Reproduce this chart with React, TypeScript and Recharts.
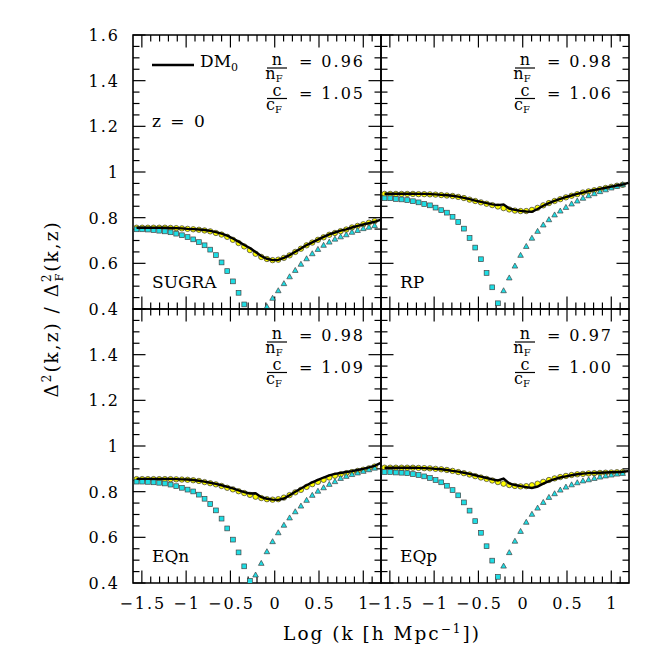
import React from 'react';
import { ComposedChart, Line, Scatter, XAxis, YAxis, ReferenceArea, ReferenceLine } from 'recharts';

// log k sampling of the points (last entry only used by the DM0 line)
const K = [
  -1.56, -1.496, -1.432, -1.368, -1.304, -1.24, -1.176, -1.112, -1.048, -0.984, -0.92,
  -0.856, -0.792, -0.728, -0.664, -0.6, -0.536, -0.472, -0.408, -0.344, -0.28, -0.216,
  -0.152, -0.088, -0.024, 0.04, 0.104, 0.168, 0.232, 0.296, 0.36, 0.424, 0.488, 0.552,
  0.616, 0.68, 0.744, 0.808, 0.872, 0.936, 1.0, 1.064, 1.128, 1.192,
];

const X_TICKS = [
  -1.5, -1.4, -1.3, -1.2, -1.1, -1, -0.9, -0.8, -0.7, -0.6, -0.5, -0.4, -0.3, -0.2, -0.1,
  0, 0.1, 0.2, 0.3, 0.4, 0.5, 0.6, 0.7, 0.8, 0.9, 1, 1.1,
];
const X_LABELS = [-1.5, -1, -0.5, 0, 0.5, 1];
const Y_TICKS = [
  0.4, 0.45, 0.5, 0.55, 0.6, 0.65, 0.7, 0.75, 0.8, 0.85, 0.9, 0.95, 1, 1.05, 1.1, 1.15,
  1.2, 1.25, 1.3, 1.35, 1.4, 1.45, 1.5, 1.55, 1.6,
];
const Y_MAJOR = [0.4, 0.6, 0.8, 1, 1.2, 1.4, 1.6];
const Y_LABELS_TOP = [0.4, 0.6, 0.8, 1, 1.2, 1.4, 1.6];
const Y_LABELS_BOTTOM = [0.4, 0.6, 0.8, 1, 1.2, 1.4];

// SUGRA
const SUGRA_LINE = [
  0.756, 0.756, 0.756, 0.756, 0.756, 0.756, 0.755, 0.754, 0.753, 0.751, 0.75, 0.748, 0.746,
  0.742, 0.737, 0.73, 0.721, 0.709, 0.695, 0.68, 0.667, 0.65, 0.632, 0.62, 0.614, 0.615,
  0.624, 0.636, 0.651, 0.665, 0.68, 0.692, 0.704, 0.716, 0.727, 0.735, 0.743, 0.749, 0.757,
  0.764, 0.77, 0.776, 0.782, 0.79,
];
const SUGRA_CIRC = [
  0.756, 0.756, 0.756, 0.756, 0.756, 0.756, 0.755, 0.754, 0.753, 0.751, 0.749, 0.747, 0.744,
  0.74, 0.733, 0.726, 0.716, 0.703, 0.689, 0.674, 0.658, 0.642, 0.628, 0.619, 0.614, 0.616,
  0.624, 0.635, 0.65, 0.664, 0.679, 0.691, 0.703, 0.714, 0.725, 0.733, 0.741, 0.748, 0.757,
  0.764, 0.771, 0.778, 0.785,
];
const SUGRA_SQ = [
  0.749, 0.749, 0.748, 0.746, 0.743, 0.74, 0.736, 0.73, 0.723, 0.715, 0.705, 0.693, 0.679,
  0.66, 0.636, 0.604, 0.566, 0.521, 0.471, 0.42,
];
const SUGRA_TRI = [
  0.41, 0.447, 0.48, 0.511, 0.541, 0.569, 0.596, 0.62, 0.642, 0.661, 0.679, 0.693, 0.706,
  0.716, 0.725, 0.736, 0.744, 0.752, 0.758, 0.765,
];

// RP
const RP_LINE = [
  0.905, 0.905, 0.905, 0.905, 0.905, 0.905, 0.904, 0.904, 0.903, 0.902, 0.9, 0.898, 0.896,
  0.892, 0.887, 0.881, 0.875, 0.869, 0.864, 0.858, 0.855, 0.858, 0.84, 0.834, 0.83, 0.827,
  0.826, 0.838, 0.852, 0.864, 0.874, 0.882, 0.89, 0.897, 0.904, 0.91, 0.916, 0.921, 0.926,
  0.931, 0.936, 0.941, 0.945, 0.952,
];
const RP_CIRC = [
  0.904, 0.904, 0.904, 0.904, 0.904, 0.904, 0.903, 0.903, 0.902, 0.901, 0.899, 0.897, 0.895,
  0.891, 0.886, 0.879, 0.873, 0.867, 0.861, 0.855, 0.849, 0.842, 0.836, 0.831, 0.829, 0.829,
  0.834, 0.843, 0.854, 0.864, 0.873, 0.881, 0.889, 0.896, 0.903, 0.91, 0.915, 0.92, 0.925,
  0.93, 0.935, 0.94, 0.944,
];
const RP_SQ = [
  0.885, 0.885, 0.882, 0.88, 0.877, 0.872, 0.867, 0.86, 0.854, 0.844, 0.833, 0.822, 0.804,
  0.781, 0.752, 0.711, 0.669, 0.618, 0.558, 0.495, 0.425,
];
const RP_TRI = [
  0.48, 0.536, 0.588, 0.635, 0.674, 0.71, 0.74, 0.768, 0.791, 0.812, 0.829, 0.845, 0.86,
  0.873, 0.885, 0.896, 0.905, 0.914, 0.922, 0.93, 0.937, 0.944,
];

// EQn
const EQN_LINE = [
  0.856, 0.856, 0.856, 0.856, 0.856, 0.856, 0.856, 0.855, 0.854, 0.853, 0.851, 0.848, 0.844,
  0.839, 0.834, 0.828, 0.821, 0.814, 0.806, 0.798, 0.792, 0.793, 0.776, 0.769, 0.765, 0.764,
  0.77, 0.784, 0.8, 0.814, 0.828, 0.841, 0.852, 0.862, 0.871, 0.878, 0.882, 0.886, 0.89,
  0.895, 0.9, 0.906, 0.913, 0.925,
];
const EQN_CIRC = [
  0.855, 0.855, 0.855, 0.855, 0.855, 0.855, 0.855, 0.854, 0.853, 0.852, 0.85, 0.847, 0.842,
  0.837, 0.832, 0.825, 0.817, 0.81, 0.802, 0.794, 0.786, 0.778, 0.772, 0.767, 0.765, 0.767,
  0.774, 0.785, 0.797, 0.808, 0.821, 0.833, 0.843, 0.852, 0.862, 0.87, 0.876, 0.881, 0.886,
  0.891, 0.896, 0.902, 0.91,
];
const EQN_SQ = [
  0.844, 0.844, 0.843, 0.841, 0.839, 0.836, 0.831, 0.824, 0.817, 0.809, 0.801, 0.787, 0.769,
  0.746, 0.718, 0.682, 0.639, 0.59, 0.534, 0.473, 0.409,
];
const EQN_TRI = [
  0.435, 0.486, 0.537, 0.581, 0.62, 0.653, 0.685, 0.712, 0.737, 0.762, 0.784, 0.802, 0.817,
  0.832, 0.844, 0.858, 0.867, 0.875, 0.882, 0.889, 0.896, 0.903,
];

// EQp
const EQP_LINE = [
  0.905, 0.905, 0.905, 0.905, 0.905, 0.905, 0.904, 0.903, 0.902, 0.9, 0.898, 0.895, 0.891,
  0.888, 0.883, 0.878, 0.872, 0.866, 0.86, 0.854, 0.849, 0.857, 0.836, 0.829, 0.824, 0.82,
  0.816, 0.822, 0.835, 0.846, 0.855, 0.862, 0.867, 0.872, 0.876, 0.879, 0.881, 0.882, 0.883,
  0.884, 0.885, 0.886, 0.887, 0.89,
];
const EQP_CIRC = [
  0.905, 0.905, 0.905, 0.905, 0.905, 0.905, 0.904, 0.903, 0.902, 0.9, 0.898, 0.895, 0.891,
  0.886, 0.881, 0.875, 0.868, 0.862, 0.856, 0.849, 0.842, 0.835, 0.829, 0.825, 0.823, 0.824,
  0.828, 0.835, 0.843, 0.851, 0.858, 0.864, 0.869, 0.873, 0.876, 0.878, 0.88, 0.881, 0.882,
  0.883, 0.884, 0.885, 0.886,
];
const EQP_SQ = [
  0.886, 0.886, 0.884, 0.883, 0.881, 0.877, 0.873, 0.867, 0.86, 0.851, 0.841, 0.826, 0.807,
  0.784, 0.753, 0.717, 0.671, 0.62, 0.561, 0.498, 0.427,
];
const EQP_TRI = [
  0.474, 0.533, 0.583, 0.626, 0.666, 0.701, 0.728, 0.753, 0.775, 0.791, 0.807, 0.82, 0.83,
  0.839, 0.847, 0.852, 0.858, 0.864, 0.869, 0.873, 0.877, 0.88,
];

const FONT = 'DejaVu Serif';
const CYAN = '#1edde4';
const MAJOR = 12.5;
const MINOR = 6.5;
const PLOT_W = 248;
const PLOT_H = 274;
const M = 30;
const X_DOMAIN = [-1.6, 1.2];
const Y_DOMAIN = [0.4, 1.6];
// tick length in pixels -> data units
const PX_X = (X_DOMAIN[1] - X_DOMAIN[0]) / PLOT_W;
const PX_Y = (Y_DOMAIN[1] - Y_DOMAIN[0]) / PLOT_H;

const has = (arr: number[], v: number) => arr.some((a) => Math.abs(a - v) < 1e-6);
const fmt = (v: number) => String(Math.round(v * 10) / 10).replace('-', '\u2212');

// axis tick labels only; the inward tick marks are reference segments
function makeLabel(side: 'bottom' | 'left', labels: number[]) {
  return (props: any) => {
    const { x, y, payload } = props;
    const v = payload.value;
    if (!has(labels, v)) return <g />;
    if (side === 'bottom') {
      return (
        <text x={x + 1} y={y + 26} textAnchor="middle" fontFamily={FONT} fontSize={16} letterSpacing={2} fill="#000">
          {fmt(v)}
        </text>
      );
    }
    return (
      <text x={x - 13} y={y + 6} textAnchor="end" fontFamily={FONT} fontSize={16} letterSpacing={2} fill="#000">
        {fmt(v)}
      </text>
    );
  };
}

const circleShape = (p: any) => (
  <circle cx={p.cx} cy={p.cy} r={2.7} fill="#ffff00" stroke="#333" strokeWidth={0.7} />
);
const squareShape = (p: any) => (
  <rect x={p.cx - 2.4} y={p.cy - 2.4} width={4.8} height={4.8} fill={CYAN} stroke="#444" strokeWidth={0.7} />
);
const triangleShape = (p: any) => (
  <polygon
    points={`${p.cx},${p.cy - 3} ${p.cx + 2.8},${p.cy + 2} ${p.cx - 2.8},${p.cy + 2}`}
    fill={CYAN}
    stroke="#444"
    strokeWidth={0.7}
  />
);

function tickMarks() {
  const out: React.ReactElement[] = [];
  const [x0, x1] = X_DOMAIN;
  const [y0, y1] = Y_DOMAIN;
  X_TICKS.forEach((v) => {
    const dy = (has(X_LABELS, v) ? MAJOR : MINOR) * PX_Y;
    out.push(<ReferenceLine key={`b${v}`} segment={[{ x: v, y: y0 }, { x: v, y: y0 + dy }]} stroke="#000" strokeWidth={1.2} />);
    out.push(<ReferenceLine key={`t${v}`} segment={[{ x: v, y: y1 }, { x: v, y: y1 - dy }]} stroke="#000" strokeWidth={1.2} />);
  });
  Y_TICKS.forEach((v) => {
    const dx = (has(Y_MAJOR, v) ? MAJOR : MINOR) * PX_X;
    out.push(<ReferenceLine key={`l${v}`} segment={[{ x: x0, y: v }, { x: x0 + dx, y: v }]} stroke="#000" strokeWidth={1.2} />);
    out.push(<ReferenceLine key={`r${v}`} segment={[{ x: x1, y: v }, { x: x1 - dx, y: v }]} stroke="#000" strokeWidth={1.2} />);
  });
  return out;
}

type PanelProps = {
  left: number;
  top: number;
  line: number[];
  circ: number[];
  sq: number[];
  tri: number[];
  xLabels: number[];
  yLabels: number[];
};

function Panel({ left, top, line, circ, sq, tri, xLabels, yLabels }: PanelProps) {
  const wy = yLabels.length ? 60 : 0;
  const hx = xLabels.length ? 50 : 0;
  const rows = K.map((k, i) => ({ k, line: line[i] }));
  const circData = circ.map((v, i) => ({ k: K[i], v }));
  const sqData = sq.map((v, i) => ({ k: K[i], v }));
  const off = circ.length - tri.length;
  const triData = tri.map((v, i) => ({ k: K[off + i], v }));
  return (
    <div style={{ position: 'absolute', left: left - M - wy, top: top - M }}>
      <ComposedChart
        width={PLOT_W + 2 * M + wy}
        height={PLOT_H + 2 * M + hx}
        data={rows}
        margin={{ top: M, right: M, bottom: M, left: M }}
      >
        <XAxis
          dataKey="k"
          type="number"
          domain={X_DOMAIN}
          allowDataOverflow
          ticks={X_TICKS}
          interval={0}
          height={hx}
          tickSize={0}
          tickMargin={0}
          tickLine={false}
          axisLine={false}
          tick={makeLabel('bottom', xLabels)}
        />
        <YAxis
          type="number"
          domain={Y_DOMAIN}
          allowDataOverflow
          ticks={Y_TICKS}
          interval={0}
          width={wy}
          tickSize={0}
          tickMargin={0}
          tickLine={false}
          axisLine={false}
          tick={makeLabel('left', yLabels)}
        />
        <ReferenceArea
          x1={X_DOMAIN[0]}
          x2={X_DOMAIN[1]}
          y1={Y_DOMAIN[0]}
          y2={Y_DOMAIN[1]}
          fill="none"
          fillOpacity={0}
          stroke="#000"
          strokeWidth={1.6}
          strokeOpacity={1}
          ifOverflow="visible"
        />
        {tickMarks()}
        <Scatter data={circData} dataKey="v" shape={circleShape} isAnimationActive={false} />
        <Line
          dataKey="line"
          type="linear"
          stroke="#000"
          strokeWidth={2.4}
          dot={false}
          isAnimationActive={false}
          zIndex={650}
        />
        <Scatter data={sqData} dataKey="v" shape={squareShape} isAnimationActive={false} />
        <Scatter data={triData} dataKey="v" shape={triangleShape} isAnimationActive={false} />
      </ComposedChart>
    </div>
  );
}

const PL = 133;
const PM = 381;
const PR = 629;
const PT = 35;
const PMY = 309;
const PB = 583;

function Fraction({ cx, y, top, bottom }: { cx: number; y: number; top: string; bottom: string }) {
  return (
    <g>
      <line x1={cx - 10} x2={cx + 10} y1={y} y2={y} stroke="#000" strokeWidth={1.2} />
      <text x={cx} y={y - 3} textAnchor="middle">{top}</text>
      <text x={cx - 3} y={y + 11} textAnchor="middle">
        {bottom}
        <tspan fontSize={10} dy={3}>F</tspan>
      </text>
    </g>
  );
}

function Params({ right, top, n, c }: { right: number; top: number; n: string; c: string }) {
  const nb = top + 33;
  const cb = top + 63.5;
  return (
    <g>
      <Fraction cx={right - 104} y={nb} top="n" bottom="n" />
      <Fraction cx={right - 104} y={cb} top="c" bottom="c" />
      <text x={right - 16} y={nb - 1} textAnchor="end" letterSpacing={2}>{`=  ${n}`}</text>
      <text x={right - 16} y={cb} textAnchor="end" letterSpacing={2}>{`=  ${c}`}</text>
    </g>
  );
}

export default function App() {
  return (
    <div style={{ position: 'absolute', left: 0, top: 0, width: 664, height: 664, background: '#fff' }}>
      <Panel left={PL} top={PT} line={SUGRA_LINE} circ={SUGRA_CIRC} sq={SUGRA_SQ} tri={SUGRA_TRI} xLabels={[]} yLabels={Y_LABELS_TOP} />
      <Panel left={PM} top={PT} line={RP_LINE} circ={RP_CIRC} sq={RP_SQ} tri={RP_TRI} xLabels={[]} yLabels={[]} />
      <Panel left={PL} top={PMY} line={EQN_LINE} circ={EQN_CIRC} sq={EQN_SQ} tri={EQN_TRI} xLabels={X_LABELS} yLabels={Y_LABELS_BOTTOM} />
      <Panel left={PM} top={PMY} line={EQP_LINE} circ={EQP_CIRC} sq={EQP_SQ} tri={EQP_TRI} xLabels={X_LABELS} yLabels={[]} />
      <svg
        width={664}
        height={664}
        style={{ position: 'absolute', left: 0, top: 0, pointerEvents: 'none' }}
        fontFamily={FONT}
        fontSize={16}
        fill="#000"
      >
        {/* legend */}
        <line x1={PL + 19} x2={PL + 61} y1={PT + 30} y2={PT + 30} stroke="#000" strokeWidth={2.5} />
        <text x={PL + 67} y={PT + 32} fontSize={17}>
          DM<tspan fontSize={11} dy={4}>0</tspan>
        </text>
        <text x={PL + 19} y={PT + 92} fontSize={17} letterSpacing={2}>z = 0</text>

        <Params right={PM} top={PT} n="0.96" c="1.05" />
        <Params right={PR} top={PT} n="0.98" c="1.06" />
        <Params right={PM} top={PMY} n="0.98" c="1.09" />
        <Params right={PR} top={PMY} n="0.97" c="1.00" />

        <text x={PL + 19} y={PMY - 21} fontSize={17}>SUGRA</text>
        <text x={PM + 19} y={PMY - 21} fontSize={17}>RP</text>
        <text x={PL + 19} y={PB - 21} fontSize={17}>EQn</text>
        <text x={PM + 19} y={PB - 21} fontSize={17}>EQp</text>

        <text x={382} y={640} textAnchor="middle" fontSize={18.5} letterSpacing={2}>
          Log (k [h Mpc<tspan fontSize={12} dy={-7}>{'\u22121'}</tspan>
          <tspan dy={7}>])</tspan>
        </text>
        <g transform="translate(58,309) rotate(-90)">
          <text x={0} y={0} textAnchor="middle" fontSize={18.5} letterSpacing={2}>
            Δ<tspan fontSize={12} dy={-7}>2</tspan>
            <tspan dy={7}>(k,z) / Δ</tspan>
            <tspan fontSize={12} dy={-7}>2</tspan>
            <tspan fontSize={11} dx={-9} dy={12}>F</tspan>
            <tspan dy={-5}>(k,z)</tspan>
          </text>
        </g>
      </svg>
    </div>
  );
}
